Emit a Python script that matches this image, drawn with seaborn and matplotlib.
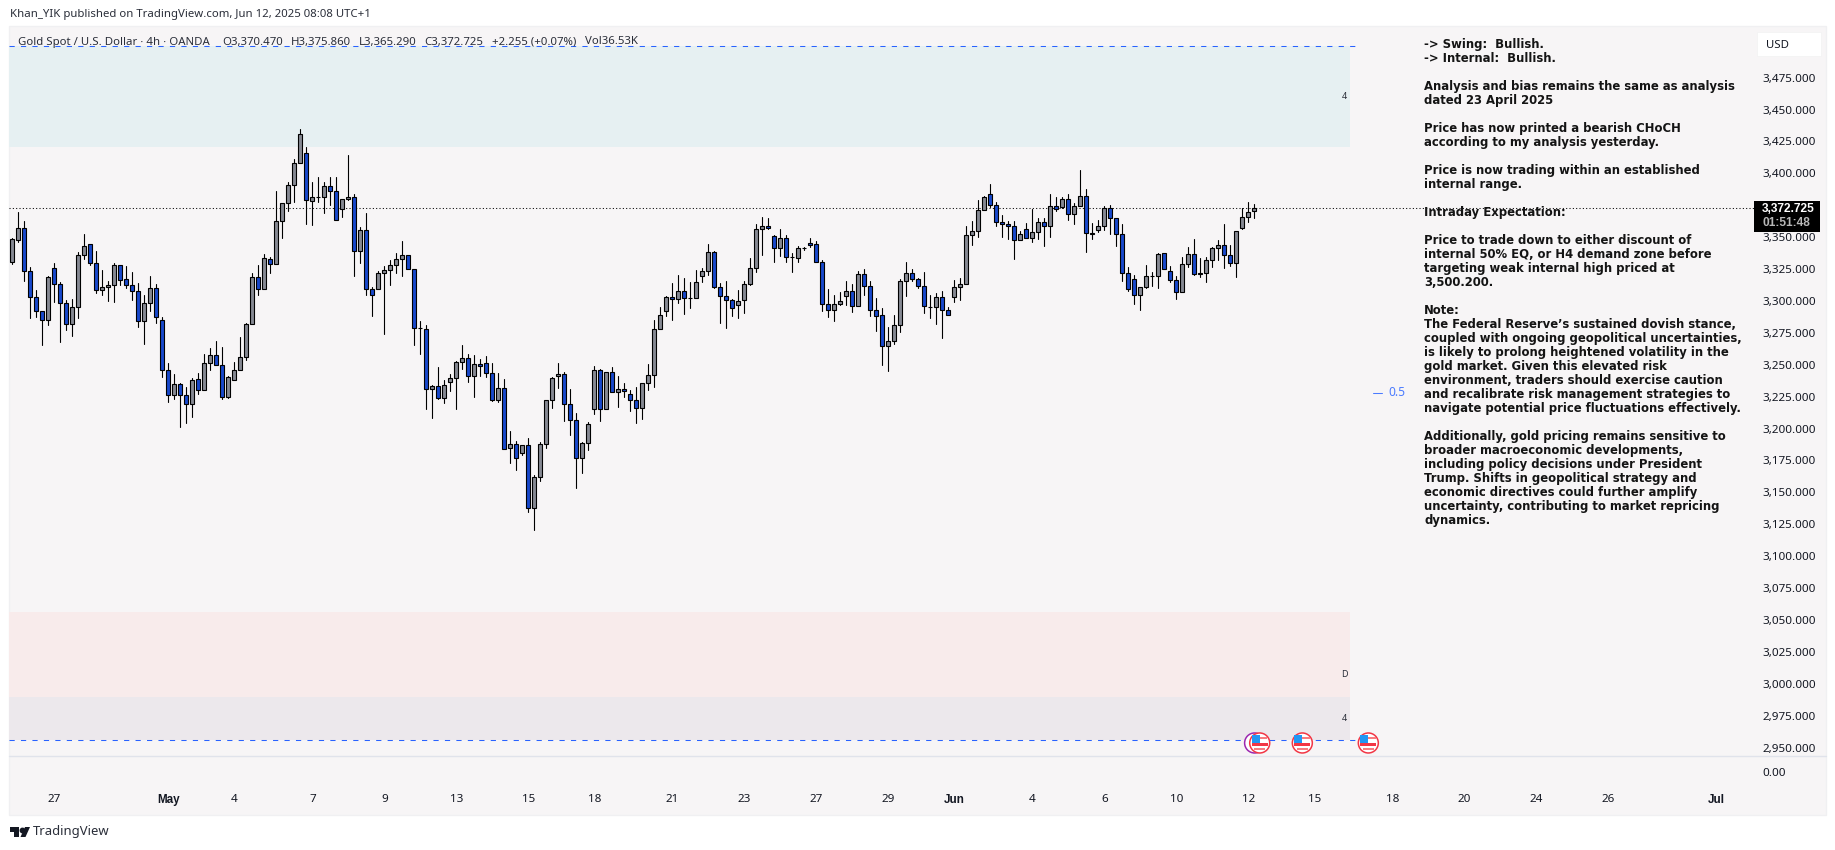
import numpy as np
import pandas as pd
import seaborn as sns
import matplotlib
matplotlib.use("Agg")
import matplotlib.pyplot as plt
from matplotlib.patches import Rectangle, Circle, Polygon
from matplotlib.transforms import ScaledTranslation

opens = [3330.9,3348.1,3357.0,3323.8,3302.9,3292.0,3284.9,3325.7,3313.1,3298.2,
3281.8,3295.1,3335.8,3344.5,3329.6,3308.4,3310.8,3312.3,3328.0,3317.0,
3312.3,3307.6,3284.1,3298.2,3310.0,3284.9,3245.7,3226.1,3234.8,3226.1,
3219.1,3238.7,3230.1,3251.2,3257.5,3249.6,3224.6,3237.9,3245.7,3255.9,
3281.8,3318.6,3309.2,3332.7,3328.8,3362.5,3376.6,3390.7,3407.9,3415.8,
3378.2,3381.6,3381.8,3389.9,3386.0,3371.9,3379.7,3381.3,3339.0,3355.4,
3309.2,3309.2,3321.7,3324.1,3328.0,3332.7,3335.8,3324.9,3278.6,3277.9,
3230.8,3233.2,3223.8,3236.6,3239.4,3252.0,3255.1,3241.0,3250.4,3251.2,
3243.3,3222.7,3231.6,3184.6,3187.7,3180.7,3186.9,3137.6,3161.9,3187.7,
3222.2,3241.0,3242.6,3219.1,3206.5,3176.7,3188.5,3215.1,3245.7,3215.1,
3244.1,3228.5,3230.8,3226.9,3222.2,3216.4,3235.5,3241.8,3277.8,3291.9,
3302.9,3301.3,3307.6,3302.0,3302.1,3319.4,3323.3,3338.2,3310.7,3303.7,
3300.6,3296.6,3300.6,3313.1,3325.6,3356.2,3358.5,3350.7,3341.3,3349.1,
3334.1,3333.5,3341.2,3345.2,3344.4,3330.3,3297.4,3292.7,3297.4,3303.7,
3307.6,3295.8,3320.9,3311.5,3292.7,3288.8,3264.5,3268.4,3280.9,3315.4,
3321.7,3317.0,3311.5,3294.9,3295.0,3302.8,3292.7,3302.8,3310.7,3313.0,
3351.4,3354.6,3371.0,3383.6,3374.9,3361.6,3360.1,3358.5,3347.5,3356.1,
3349.1,3353.8,3361.6,3358.5,3374.2,3373.4,3379.6,3367.9,3374.2,3382.0,
3353.0,3355.4,3358.5,3372.6,3364.8,3352.2,3321.7,3317.0,3304.4,3310.7,
3319.2,3319.3,3337.3,3323.2,3316.2,3306.8,3328.7,3336.5,3321.7,3321.7,
3331.8,3341.2,3343.6,3335.8,3329.5,3356.9,3365.5,3370.47]

highs = [3349.2,3369.8,3362.5,3326.4,3308.7,3292.0,3319.4,3329.6,3314.7,3300.6,
3301.4,3338.2,3352.6,3344.5,3339.0,3324.3,3315.5,3329.6,3328.5,3327.2,
3322.5,3313.9,3304.5,3319.4,3313.1,3287.3,3251.2,3242.6,3235.5,3232.4,
3239.5,3243.6,3258.3,3263.0,3268.4,3263.7,3241.0,3252.0,3271.6,3282.6,
3321.7,3328.0,3336.6,3334.3,3386.3,3376.6,3393.3,3411.1,3434.6,3421.0,
3393.3,3397.0,3393.3,3397.0,3397.0,3379.7,3414.2,3383.6,3357.8,3368.8,
3310.8,3323.3,3327.2,3331.9,3337.4,3346.8,3335.8,3324.9,3284.1,3281.0,
3234.0,3248.1,3237.9,3242.8,3252.8,3265.3,3258.2,3257.5,3254.3,3256.9,
3251.2,3243.3,3238.9,3198.2,3190.1,3186.9,3192.4,3163.4,3189.3,3222.2,
3240.2,3251.2,3244.1,3231.1,3212.3,3189.3,3205.0,3248.8,3246.5,3244.1,
3248.0,3241.0,3235.5,3230.0,3232.4,3235.5,3250.4,3284.9,3295.1,3303.7,
3313.9,3320.1,3317.8,3314.7,3324.1,3325.6,3344.4,3338.9,3313.9,3315.4,
3301.3,3308.4,3315.4,3333.7,3360.1,3366.1,3364.8,3351.5,3356.2,3351.5,
3337.4,3342.9,3342.1,3349.1,3346.8,3331.9,3309.2,3304.5,3306.8,3315.4,
3313.1,3323.3,3324.8,3315.4,3302.1,3294.3,3279.4,3288.8,3317.0,3330.3,
3324.8,3317.7,3322.4,3304.4,3306.0,3307.6,3295.0,3316.2,3317.7,3358.5,
3362.4,3378.9,3382.0,3391.4,3377.3,3367.1,3362.4,3362.4,3354.6,3360.8,
3371.8,3364.8,3364.8,3383.6,3381.2,3381.2,3383.6,3376.5,3402.4,3387.5,
3360.8,3363.2,3374.2,3374.9,3364.8,3360.1,3326.4,3320.1,3310.7,3327.9,
3322.4,3337.3,3337.3,3327.1,3319.3,3334.2,3342.0,3348.3,3333.4,3334.2,
3342.0,3347.5,3360.1,3343.6,3354.6,3372.6,3377.3,3375.86]

lows = [3329.3,3346.5,3316.0,3287.0,3287.8,3265.1,3281.5,3298.8,3268.2,3277.6,
3272.9,3287.0,3333.2,3328.0,3306.6,3305.0,3300.3,3299.5,3312.9,3310.5,
3301.1,3279.9,3266.6,3292.5,3283.1,3240.8,3221.2,3223.5,3201.6,3204.7,
3209.4,3227.4,3230.1,3246.2,3249.6,3223.0,3223.8,3237.9,3245.7,3254.1,
3281.8,3305.0,3309.2,3322.3,3328.8,3349.7,3370.8,3377.6,3407.9,3360.7,
3359.9,3377.9,3369.3,3375.5,3363.3,3366.1,3379.0,3319.9,3330.1,3304.5,
3288.6,3309.2,3274.5,3312.9,3321.7,3319.6,3324.9,3265.8,3258.8,3215.7,
3207.9,3223.0,3220.4,3229.5,3215.7,3246.7,3236.6,3225.1,3241.5,3240.7,
3221.7,3221.1,3183.8,3173.3,3167.9,3179.6,3134.9,3120.8,3159.2,3185.1,
3216.4,3232.1,3206.3,3195.3,3153.8,3165.5,3183.5,3211.7,3206.3,3215.1,
3228.5,3217.2,3225.1,3214.1,3204.7,3207.8,3230.3,3232.9,3277.8,3288.5,
3285.4,3298.2,3290.1,3294.8,3302.1,3315.2,3320.1,3310.0,3283.1,3279.1,
3288.3,3287.0,3290.9,3312.3,3323.0,3336.3,3356.2,3330.8,3335.6,3330.8,
3323.0,3330.8,3340.0,3342.1,3330.3,3292.5,3287.8,3284.6,3296.6,3297.2,
3291.7,3295.8,3305.0,3288.5,3276.3,3250.1,3245.4,3266.1,3275.7,3304.2,
3315.4,3309.9,3290.8,3286.9,3282.2,3271.2,3288.7,3299.5,3301.0,3313.0,
3343.9,3350.4,3371.0,3373.4,3359.0,3350.4,3348.8,3333.1,3347.5,3349.1,
3346.5,3348.3,3343.3,3350.4,3370.2,3372.6,3363.7,3360.6,3374.2,3338.6,
3348.8,3354.3,3355.9,3352.7,3343.3,3315.9,3307.6,3297.9,3293.2,3309.9,
3311.5,3310.4,3324.8,3314.6,3301.8,3306.8,3326.9,3320.1,3319.0,3314.9,
3326.4,3332.1,3326.1,3327.7,3319.0,3356.1,3362.1,3365.29]

closes = [3348.4,3357.0,3323.8,3302.9,3292.0,3284.9,3318.6,3313.1,3298.2,3281.8,
3295.1,3335.8,3342.9,3329.6,3308.4,3310.8,3312.3,3328.0,3316.3,3312.3,
3307.6,3284.1,3298.2,3310.0,3287.3,3245.7,3226.1,3234.8,3226.1,3219.1,
3237.9,3230.1,3251.2,3257.5,3249.6,3224.6,3240.2,3245.7,3255.9,3281.8,
3318.6,3309.2,3333.5,3328.8,3362.5,3376.6,3390.7,3407.9,3430.7,3379.0,
3381.3,3381.8,3389.9,3386.0,3363.3,3379.7,3381.3,3339.0,3355.4,3309.2,
3305.0,3321.7,3324.1,3328.0,3332.7,3335.8,3324.9,3278.6,3278.8,3230.8,
3233.2,3223.8,3234.0,3239.4,3252.0,3255.1,3241.0,3250.4,3249.4,3243.3,
3222.7,3231.6,3183.8,3187.7,3176.7,3186.9,3137.6,3161.9,3187.7,3222.2,
3239.4,3242.6,3219.1,3206.5,3176.7,3188.5,3203.4,3245.7,3215.1,3244.1,
3228.5,3230.8,3229.2,3222.2,3216.4,3235.5,3241.8,3277.8,3288.8,3302.9,
3301.3,3307.6,3302.1,3302.1,3314.7,3323.3,3338.2,3310.7,3303.7,3300.6,
3294.3,3299.8,3313.1,3325.6,3356.2,3358.5,3357.0,3341.3,3349.1,3334.2,
3334.2,3341.3,3341.3,3344.2,3330.3,3297.4,3292.7,3297.4,3299.8,3307.6,
3295.8,3320.9,3311.5,3292.7,3288.0,3264.5,3268.4,3281.0,3315.4,3321.7,
3317.0,3311.5,3295.8,3295.0,3302.8,3292.7,3288.7,3310.7,3313.0,3351.4,
3354.6,3371.0,3381.2,3374.9,3361.6,3360.1,3358.5,3347.5,3352.2,3349.1,
3353.8,3361.6,3358.5,3374.2,3371.8,3379.6,3367.9,3374.2,3382.0,3353.0,
3352.2,3358.5,3372.6,3364.8,3352.2,3321.7,3309.1,3304.4,3310.7,3319.3,
3319.3,3336.5,3324.8,3316.2,3306.8,3328.7,3336.5,3320.9,3320.9,3331.8,
3341.2,3343.6,3335.8,3329.5,3354.6,3365.5,3369.5,3372.725]

price_ticks = [3475,3450,3425,3400,3375,3350,3325,3300,3275,3250,3225,3200,3175,3150,3125,3100,3075,3050,3025,3000,2975,2950]
bar_ticks = [7,26,37,50,62,74,86,97,110,122,134,146,157,170,182,194,206,217,230,242,254,266,284]
bar_labels = ["27","May","4","7","9","13","15","18","21","23","27","29","Jun","4","6","10","12","15","18","20","24","26","Jul"]
bold_labels = ["May","Jun","Jul"]

zone_tops = [3500.2,3056.3,2989.6]
zone_bottoms = [3421.0,2989.6,2955.7]
zone_colors = ["#E6F0F2","#F8EBEB","#ECE8EC"]
zone_tags = ["4","D","4"]
zone_tag_prices = [3460,3007,2973]
high_level = 3500.2
low_level = 2955.7
last_price = 3372.725
mid_level = 3228
event_bars = [207.9,215,226]
event_price = 2953.6

note_lines = [
"-> Swing:  Bullish.","-> Internal:  Bullish.","",
"Analysis and bias remains the same as analysis","dated 23 April 2025","",
"Price has now printed a bearish CHoCH","according to my analysis yesterday.","",
"Price is now trading within an established","internal range.","",
"Intraday Expectation:","",
"Price to trade down to either discount of","internal 50% EQ, or H4 demand zone before","targeting weak internal high priced at","3,500.200.","",
"Note:","The Federal Reserve\u2019s sustained dovish stance,","coupled with ongoing geopolitical uncertainties,",
"is likely to prolong heightened volatility in the","gold market. Given this elevated risk","environment, traders should exercise caution",
"and recalibrate risk management strategies to","navigate potential price fluctuations effectively.","",
"Additionally, gold pricing remains sensitive to","broader macroeconomic developments,","including policy decisions under President",
"Trump. Shifts in geopolitical strategy and","economic directives could further amplify","uncertainty, contributing to market repricing","dynamics."]

W, H = 1835, 850
FONT = "Noto Sans"
BOLD = "Liberation Sans"
BG = "#F7F5F6"
sns.set_theme(style="white", rc={"font.family": FONT, "axes.facecolor": "none", "figure.facecolor": "white",
                                 "axes.edgecolor": "none", "text.color": "#131722"})
fig = plt.figure(figsize=(W/100, H/100), dpi=100)

def fx(x): return x / W
def fy(y): return 1 - y / H
def axes_at(x0, y0, x1, y1):
    return fig.add_axes([fx(x0), fy(y1), (x1-x0)/W, (y1-y0)/H])

fig.add_artist(Rectangle((fx(9), fy(814.5)), (1826-9)/W, (814.5-26)/H, transform=fig.transFigure,
                         fc=BG, ec="#F0F0F2", lw=1, zorder=-5))

ax = axes_at(9, 27, 1754, 756)
ax2 = axes_at(9, 756, 1754, 787)

df = pd.DataFrame({"o": opens, "h": highs, "l": lows, "c": closes})
df["bar"] = np.arange(len(df))
wicks = df.melt(id_vars="bar", value_vars=["h", "l"], value_name="price")

x_left, x_right = -0.55, 290.28
y_low, y_high = 2943.4, 3514.7
ax.set_xlim(x_left, x_right); ax.set_ylim(y_low, y_high)

for t, b, col in zip(zone_tops, zone_bottoms, zone_colors):
    ax.fill_between([x_left, 223], b, t, color=col, lw=0, zorder=0.5)

for lvl in (high_level, low_level):
    ax.plot([x_left, 224], [lvl, lvl], color="#2962FF", lw=0.75, ls=(0, (5, 6)), zorder=1)
ax.axhline(last_price, color="black", lw=0.75, ls=(0, (1, 2.2)), zorder=1.2)

sns.lineplot(data=wicks, x="bar", y="price", units="bar", estimator=None, sort=False,
             color="black", lw=0.8, legend=False, ax=ax, zorder=2)
up = df.c >= df.o
ax.bar(df.bar, (df.c - df.o).abs(), bottom=df[["o", "c"]].min(axis=1), width=0.7,
       color=np.where(up, "#868993", "#1848CC"), edgecolor="black", linewidth=0.8, zorder=3)
ax.set_xlim(x_left, x_right); ax.set_ylim(y_low, y_high)
ax.set_xlabel(""); ax.set_ylabel("")

for tag, p in zip(zone_tags, zone_tag_prices):
    ax.text(222, p, tag, fontsize=6.5, ha="center", va="center", color="#2A2E39", zorder=4)

ax.plot([226.8, 228.2], [mid_level, mid_level], color="#4B7BFF", lw=0.75, zorder=4)
ax.text(229.4, mid_level, "0.5", color="#4B7BFF", fontsize=8.6, ha="left", va="center", zorder=4)

ax.yaxis.tick_right()
ax.set_yticks(price_ticks)
ax.set_yticklabels([f"{p:,.3f}" for p in price_ticks], fontsize=8.4, color="#131722")
ax.tick_params(axis="y", length=0, pad=5.8)
ax.set_xticks([])
for s in ax.spines.values():
    s.set_visible(False)

ax2.set_xlim(x_left, x_right); ax2.set_ylim(-1, 1)
ax2.yaxis.tick_right()
ax2.set_yticks([0]); ax2.set_yticklabels(["0.00"], fontsize=8.4, color="#131722")
ax2.tick_params(axis="y", length=0, pad=5.8)
ax2.set_xticks(bar_ticks)
ax2.set_xticklabels(bar_labels, fontsize=8.4, color="#131722")
ax2.tick_params(axis="x", length=0, pad=5.2)
for lab in ax2.get_xticklabels():
    if lab.get_text() in bold_labels:
        lab.set_fontfamily(BOLD)
        lab.set_fontweight("bold")
for s in ax2.spines.values():
    s.set_visible(False)
fig.add_artist(plt.Line2D([fx(9), fx(1826)], [fy(756), fy(756)], color="#E0E3EB", lw=1, transform=fig.transFigure, zorder=1))

def flag(xv, yv, ring_only=False, ring="#F23645"):
    t = ScaledTranslation(xv, yv, ax.transData)
    z = 6
    ax.add_patch(Circle((0, 0), 10, transform=t, fc="white", ec=ring, lw=1.1, clip_on=False, zorder=z))
    if ring_only:
        return
    ax.add_patch(Rectangle((-7.5, 3.5), 15, 2.6, transform=t, fc="#F77C80", lw=0, clip_on=False, zorder=z))
    ax.add_patch(Rectangle((-8, -2.6), 16, 2.6, transform=t, fc="#F23645", lw=0, clip_on=False, zorder=z))
    ax.add_patch(Rectangle((-5.5, -7.5), 11, 2.4, transform=t, fc="#F77C80", lw=0, clip_on=False, zorder=z))
    ax.add_patch(Rectangle((-8, 0), 8, 7.5, transform=t, fc="#2196F3", lw=0, clip_on=False, zorder=z+0.1))

flag(event_bars[0]-0.85, event_price, ring_only=True, ring="#9C27B0")
for b in event_bars:
    flag(b, event_price)

fig.add_artist(Rectangle((fx(1757), fy(56)), 63.5/W, 24/H, transform=fig.transFigure, fc="white", ec="#F2F2F2", lw=0.5, zorder=5))
fig.text(fx(1766), fy(45), "USD", fontsize=8.2, va="center", ha="left", color="#131722", zorder=6)
fig.add_artist(Rectangle((fx(1754), fy(232)), 66/W, 31/H, transform=fig.transFigure, fc="black", ec="none", zorder=5))
fig.text(fx(1762), fy(209), f"{last_price:,.3f}", fontsize=8.6, fontfamily=BOLD, fontweight="bold", color="white", va="center", ha="left", zorder=6)
fig.text(fx(1762), fy(223), "01:51:48", fontsize=8.6, fontfamily=BOLD, fontweight="bold", color="#B8B8B8", va="center", ha="left", zorder=6)

for i, line in enumerate(note_lines):
    if line:
        fig.text(fx(1424), fy(44.3 + 14 * i), line, fontsize=8.35, fontfamily="DejaVu Sans", fontweight="bold", color="#141414",
                 va="center", ha="left", zorder=7)

fig.text(fx(10), fy(15), "Khan_YIK published on TradingView.com, Jun 12, 2025 08:08 UTC+1",
         fontsize=8.2, va="center", ha="left", color="#2A2E39")
legend_bits = [(18, "Gold Spot / U.S. Dollar \u00b7 4h \u00b7 OANDA"), (222, "O3,370.470"), (290.5, "H3,375.860"),
               (358.5, "L3,365.290"), (424.5, "C3,372.725"), (492, "+2.255 (+0.07%)"), (585, "Vol36.53K")]
for xp, s in legend_bits:
    fig.text(fx(xp), fy(42), s, fontsize=8.2, va="center", ha="left", color="#2A2E39", zorder=7)

for poly in ([(10, 827), (19, 827), (19, 837), (14, 837), (14, 832), (10, 832)],
             [(25, 827), (30, 827), (25.5, 837), (20.5, 837)]):
    fig.add_artist(Polygon([(fx(a), fy(b)) for a, b in poly], transform=fig.transFigure, fc="#131722", ec="none"))
fig.add_artist(plt.Line2D([fx(22)], [fy(829.5)], marker="o", ms=3.2, color="#131722", transform=fig.transFigure))
fig.text(fx(33), fy(832), "TradingView", fontsize=9.4, va="center", ha="left", color="#2A2E39")

fig.savefig("out.png", dpi=100)
